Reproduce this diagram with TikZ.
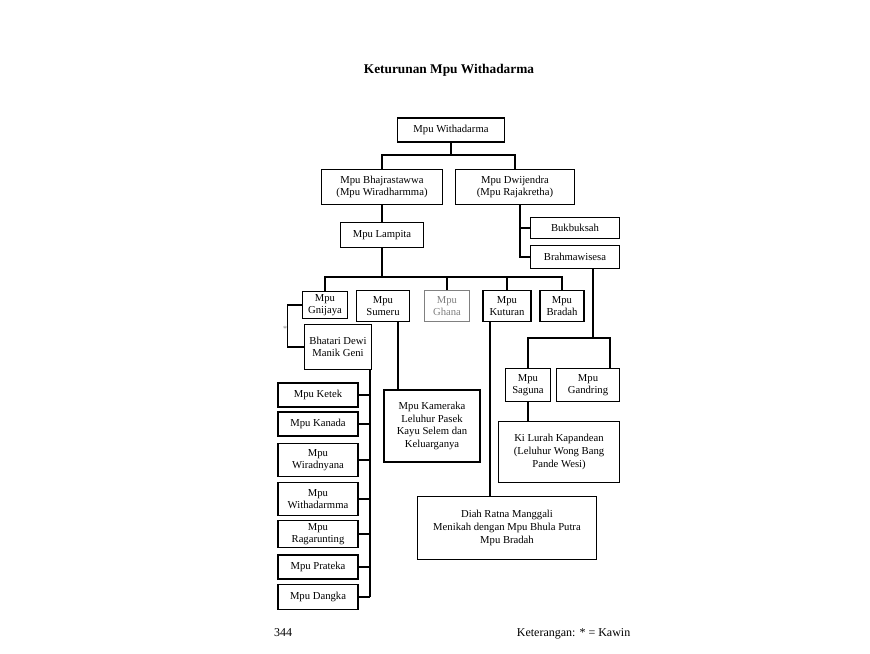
\documentclass[tikz,border=0pt]{standalone}
\usepackage{fontspec}
\setmainfont{Liberation Serif}
\usepackage{tikz}

\begin{document}
\begin{tikzpicture}[x=0.75pt,y=-0.75pt,
  box/.style={draw,thick,align=center,inner sep=1pt,font=\fontsize{8}{9.5}\selectfont},
  link/.style={thick}]
\useasboundingbox (0,0) rectangle (870,653);

\node[font=\bfseries\fontsize{10}{12}\selectfont] (title) at (449,70) {Keturunan Mpu Withadarma};

\node[box,minimum width=80pt,minimum height=18pt] (top)     at (451,130) {Mpu Withadarma};
\node[box,minimum width=91pt,minimum height=26pt] (bhaj)    at (382,187) {Mpu Bhajrastawwa\\(Mpu Wiradharmma)};
\node[box,minimum width=89pt,minimum height=26pt] (dwij)    at (515,187) {Mpu Dwijendra\\(Mpu Rajakretha)};
\node[box,minimum width=62pt,minimum height=19pt] (lampita) at (382,235) {Mpu Lampita};
\node[box,minimum width=67pt,minimum height=16pt] (bukbuk)  at (575,228) {Bukbuksah};
\node[box,minimum width=67pt,minimum height=17pt] (brahma)  at (575,257) {Brahmawisesa};

\node[box,minimum width=34pt,minimum height=20pt] (gnijaya) at (325,305) {Mpu\\Gnijaya};
\node[box,minimum width=40pt,minimum height=23pt] (sumeru)  at (383,306) {Mpu\\Sumeru};
\node[box,minimum width=34pt,minimum height=23pt,draw=gray,text=gray] (ghana) at (447,306) {Mpu\\Ghana};
\node[box,minimum width=36pt,minimum height=23pt] (kuturan) at (507,306) {Mpu\\Kuturan};
\node[box,minimum width=33pt,minimum height=23pt] (bradah)  at (562,306) {Mpu\\Bradah};

\node[box,minimum width=50pt,minimum height=34pt] (bhatari) at (338,347) {Bhatari Dewi\\Manik Geni};
\node[gray,font=\fontsize{6}{7}\selectfont] (star) at (285,329) {*};

\node[box,minimum width=60pt,minimum height=18pt] (ketek)   at (318,395) {Mpu Ketek};
\node[box,minimum width=60pt,minimum height=18pt] (kanada)  at (318,424) {Mpu Kanada};
\node[box,minimum width=60pt,minimum height=25pt] (wiradn)  at (318,460) {Mpu\\Wiradnyana};
\node[box,minimum width=60pt,minimum height=25pt] (withad)  at (318,499) {Mpu\\Withadarmma};
\node[box,minimum width=60pt,minimum height=20pt] (ragar)   at (318,534) {Mpu\\Ragarunting};
\node[box,minimum width=60pt,minimum height=18pt] (prateka) at (318,567) {Mpu Prateka};
\node[box,minimum width=60pt,minimum height=19pt] (dangka)  at (318,597) {Mpu Dangka};

\node[box,minimum width=72pt,minimum height=54pt] (kameraka) at (432,426) {Mpu Kameraka\\Leluhur Pasek\\Kayu Selem dan\\Keluarganya};
\node[box,minimum width=134pt,minimum height=47pt] (diah)    at (507,528) {Diah Ratna Manggali\\Menikah dengan Mpu Bhula Putra\\Mpu Bradah};
\node[box,minimum width=34pt,minimum height=25pt] (saguna)   at (528,385) {Mpu\\Saguna};
\node[box,minimum width=47pt,minimum height=25pt] (gandring) at (588,385) {Mpu\\Gandring};
\node[box,minimum width=91pt,minimum height=46pt] (kilurah)  at (559,452) {Ki Lurah Kapandean\\(Leluhur Wong Bang\\Pande Wesi)};

\node[font=\fontsize{9}{11}\selectfont] (page) at (283,633) {344};
\node[anchor=east,font=\fontsize{9}{11}\selectfont] (ket) at (635,634) {Keterangan: * = Kawin};

% junctions
\coordinate (j1) at (451,155);
\coordinate (d0) at (520,205);
\coordinate (j3) at (382,277);
\coordinate (b0) at (370,370);
\coordinate (b1) at (370,597);
\coordinate (s0) at (398,322);
\coordinate (k0) at (490,322);
\coordinate (w0) at (593,268);
\coordinate (w1) at (593,338);
\coordinate (g0) at (610,368);

\draw[link] (top) -- (j1);
\draw[link] (bhaj.north) |- (j1) -| (dwij.north);
\draw[link] (bhaj) -- (lampita);
\draw[link] (d0) |- (bukbuk.west);
\draw[link] (d0) |- (brahma.west);

\draw[link] (lampita) -- (j3);
\draw[link] (gnijaya.north) |- (j3) -| (bradah.north);
\foreach \n in {ghana,kuturan}
  \draw[link] (\n.north) -- (\n.north |- j3);

\draw[link] (gnijaya.west) -- ++(-14,0) |- (bhatari.west);
\draw[link] (b0) -- (b1);
\foreach \n in {ketek,kanada,wiradn,withad,ragar,prateka,dangka}
  \draw[link] (\n.east) -- (\n.east -| b0);

\draw[link] (s0) -- (s0 |- kameraka.north);
\draw[link] (k0) -- (k0 |- diah.north);
\draw[link] (w0) -- (w1);
\draw[link] (saguna.north) |- (w1) -| (g0);
\draw[link] (saguna) -- (saguna |- kilurah.north);

\end{tikzpicture}
\end{document}
